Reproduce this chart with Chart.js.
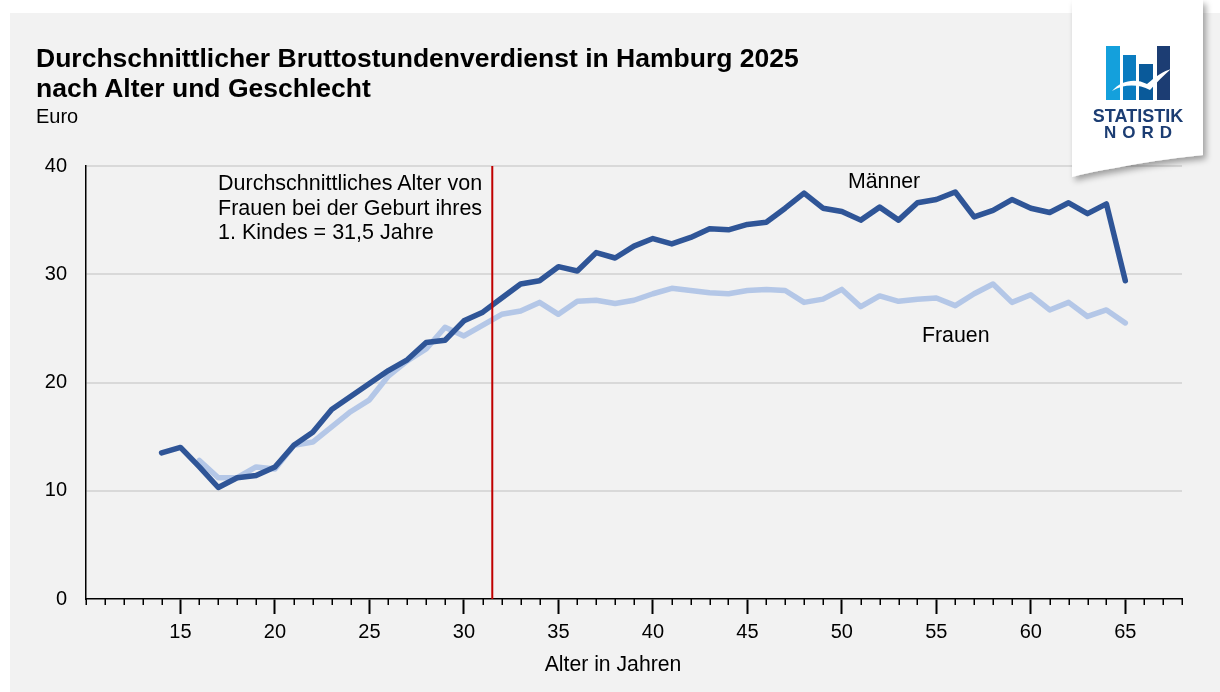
<!DOCTYPE html>
<html lang="de">
<head>
<meta charset="utf-8">
<title>Bruttostundenverdienst Hamburg 2025</title>
<script src="https://cdn.jsdelivr.net/npm/chart.js@4.4.1/dist/chart.umd.min.js"></script>
<style>
    html, body { margin: 0; padding: 0; background: #fff; }
    body { width: 1220px; height: 692px; position: relative; overflow: hidden; font-family: "Liberation Sans", Arial, sans-serif; color: #000; }
    #panel { position: absolute; left: 10px; top: 13px; width: 1210px; height: 679px; background: #f2f2f2; }
    #chartBox { position: absolute; left: 0; top: 0; width: 1220px; height: 692px; }
    .txt { position: absolute; white-space: nowrap; }
    #title { left: 36px; top: 43px; font-size: 26.5px; font-weight: bold; line-height: 30px; }
    #unit { left: 36px; top: 104px; font-size: 20px; line-height: 24px; }
    #note { left: 218px; top: 171px; font-size: 21.5px; line-height: 24.5px; }
    #lblM { left: 848px; top: 169px; font-size: 21.3px; line-height: 24px; }
    #lblF { left: 922px; top: 323px; font-size: 21.3px; line-height: 24px; }
    #xTitle { left: 613px; top: 652px; font-size: 21.2px; line-height: 24px; transform: translateX(-50%); }
    #logo { position: absolute; left: 1060px; top: 0; }
</style>
</head>
<body>
<div id="panel"></div>
<div id="chartBox"><canvas id="verdienstChart" width="1220" height="692"></canvas></div>

<div class="txt" id="title">Durchschnittlicher Bruttostundenverdienst in Hamburg 2025<br>nach Alter und Geschlecht</div>
<div class="txt" id="unit">Euro</div>
<div class="txt" id="note">Durchschnittliches Alter von<br>Frauen bei der Geburt ihres<br>1. Kindes = 31,5 Jahre</div>
<div class="txt" id="lblM">Männer</div>
<div class="txt" id="lblF">Frauen</div>
<div class="txt" id="xTitle">Alter in Jahren</div>

<svg id="logo" width="160" height="190" viewBox="0 0 160 190">
    <defs>
        <filter id="cardShadow" x="-20%" y="-20%" width="140%" height="140%">
            <feDropShadow dx="3" dy="4" stdDeviation="3" flood-color="#000" flood-opacity="0.35"/>
        </filter>
    </defs>
    <path d="M12,0 L143,0 L143,155 Q95,160 55,168 Q30,172 12,177 Z" fill="#fff" filter="url(#cardShadow)"/>
    <rect x="46" y="46" width="14" height="54" fill="#14a0dc"/>
    <rect x="63" y="55" width="13" height="45" fill="#0a7cc0"/>
    <rect x="79" y="64" width="14" height="36" fill="#0a5a9a"/>
    <rect x="97" y="46" width="13" height="54" fill="#1c3d73"/>
    <path d="M52,91 C61,80 76,78 87,84 C96,76 104,71 111,69 C104,75 97,82 90,90 C78,84 64,84 52,91 Z" fill="#fff"/>
    <text x="78" y="122" text-anchor="middle" font-family="Liberation Sans, Arial, sans-serif" font-weight="bold" font-size="18" fill="#1c3d73">STATISTIK</text>
    <text x="81" y="138" text-anchor="middle" font-family="Liberation Sans, Arial, sans-serif" font-weight="bold" font-size="17" letter-spacing="6" fill="#1c3d73">NORD</text>
</svg>

<script>
// Alter (Jahre) und Stundenverdienst in Euro
const alterMaenner = [14, 15, 16, 17, 18, 19, 20, 21, 22, 23, 24, 25, 26, 27, 28, 29, 30, 31, 32, 33, 34, 35, 36, 37, 38, 39,
    40, 41, 42, 43, 44, 45, 46, 47, 48, 49, 50, 51, 52, 53, 54, 55, 56, 57, 58, 59, 60, 61, 62, 63, 64, 65];
const verdienstMaenner = [13.5, 14.0, 12.2, 10.3, 11.2, 11.4, 12.2, 14.2, 15.4, 17.5, 18.7, 19.9, 21.1, 22.1, 23.7, 23.9,
    25.7, 26.5, 27.8, 29.1, 29.4, 30.7, 30.3, 32.0, 31.5, 32.6, 33.3, 32.8, 33.4, 34.2, 34.1, 34.6, 34.8, 36.1, 37.5, 36.1,
    35.8, 35.0, 36.2, 35.0, 36.6, 36.9, 37.6, 35.3, 35.9, 36.9, 36.1, 35.7, 36.6, 35.6, 36.5, 29.4];

const alterFrauen = [16, 17, 18, 19, 20, 21, 22, 23, 24, 25, 26, 27, 28, 29, 30, 31, 32, 33, 34, 35, 36, 37, 38, 39,
    40, 41, 42, 43, 44, 45, 46, 47, 48, 49, 50, 51, 52, 53, 54, 55, 56, 57, 58, 59, 60, 61, 62, 63, 64, 65];
const verdienstFrauen = [12.8, 11.2, 11.2, 12.2, 12.0, 14.2, 14.5, 15.9, 17.3, 18.4, 20.6, 22.0, 23.1, 25.1, 24.3, 25.3,
    26.3, 26.6, 27.4, 26.3, 27.5, 27.6, 27.3, 27.6, 28.2, 28.7, 28.5, 28.3, 28.2, 28.5, 28.6, 28.5, 27.4, 27.7, 28.6, 27.0,
    28.0, 27.5, 27.7, 27.8, 27.1, 28.2, 29.1, 27.4, 28.1, 26.7, 27.4, 26.1, 26.7, 25.5];

const xBeschriftung = [15, 20, 25, 30, 35, 40, 45, 50, 55, 60, 65];
const yBeschriftung = [0, 10, 20, 30, 40];
const geburtAlter = 31.5;

function toPoints(xs, ys) {
    return xs.map((x, i) => ({ x: x, y: ys[i] }));
}

// vertical marker + minor ticks on the age axis
const extrasPlugin = {
    id: 'extras',
    afterDatasetsDraw(chart) {
        const ctx = chart.ctx;
        const area = chart.chartArea;
        const xPos = chart.scales.x.getPixelForValue(geburtAlter);
        ctx.save();
        ctx.strokeStyle = '#c00000';
        ctx.lineWidth = 2;
        ctx.beginPath();
        ctx.moveTo(xPos, area.top);
        ctx.lineTo(xPos, area.bottom);
        ctx.stroke();
        ctx.restore();
    },
    afterDraw(chart) {
        const ctx = chart.ctx;
        const xScale = chart.scales.x;
        const bottom = chart.chartArea.bottom;
        ctx.save();
        ctx.strokeStyle = '#000';
        ctx.lineWidth = 1.5;
        for (let a = xScale.min; a <= xScale.max; a++) {
            if (xBeschriftung.includes(a)) continue;
            const px = Math.round(xScale.getPixelForValue(a)) + 0.25;
            ctx.beginPath();
            ctx.moveTo(px, bottom);
            ctx.lineTo(px, bottom + 6);
            ctx.stroke();
        }
        ctx.restore();
    }
};

document.addEventListener('DOMContentLoaded', function() {
    Chart.defaults.font.family = '"Liberation Sans", Arial, sans-serif';
    Chart.defaults.font.size = 20;
    Chart.defaults.color = '#000';

    const ctx = document.getElementById('verdienstChart').getContext('2d');
    new Chart(ctx, {
        type: 'line',
        data: {
            datasets: [
                {
                    label: 'Männer',
                    data: toPoints(alterMaenner, verdienstMaenner),
                    borderColor: '#2f5597',
                    borderWidth: 5.5,
                    borderJoinStyle: 'round',
                    borderCapStyle: 'round',
                    pointRadius: 0,
                    tension: 0
                },
                {
                    label: 'Frauen',
                    data: toPoints(alterFrauen, verdienstFrauen),
                    borderColor: '#b4c7e7',
                    borderWidth: 5.5,
                    borderJoinStyle: 'round',
                    borderCapStyle: 'round',
                    pointRadius: 0,
                    tension: 0
                }
            ]
        },
        options: {
            responsive: false,
            animation: false,
            layout: { padding: { top: 166, right: 38, left: 0, bottom: 0 } },
            plugins: {
                legend: { display: false },
                tooltip: { enabled: false }
            },
            scales: {
                x: {
                    type: 'linear',
                    min: 10,
                    max: 68,
                    afterFit: s => { s.height = 93; },
                    afterBuildTicks: s => { s.ticks = xBeschriftung.map(v => ({ value: v })); },
                    grid: {
                        display: true,
                        drawOnChartArea: false,
                        drawTicks: true,
                        tickLength: 15,
                        tickColor: '#000',
                        tickWidth: 2
                    },
                    border: { display: true, color: '#000', width: 1.5 },
                    ticks: { padding: 6, maxRotation: 0, autoSkip: false, font: { size: 20 } }
                },
                y: {
                    min: 0,
                    max: 40,
                    afterFit: s => { s.width = 86; },
                    afterBuildTicks: s => { s.ticks = yBeschriftung.map(v => ({ value: v })); },
                    grid: {
                        drawTicks: false,
                        lineWidth: 2,
                        color: c => (c.tick && c.tick.value === 0) ? 'rgba(0,0,0,0)' : '#d9d9d9'
                    },
                    border: { display: true, color: '#000', width: 1.5 },
                    ticks: { padding: 19, font: { size: 20 } }
                }
            }
        },
        plugins: [extrasPlugin]
    });
});
</script>
</body>
</html>
